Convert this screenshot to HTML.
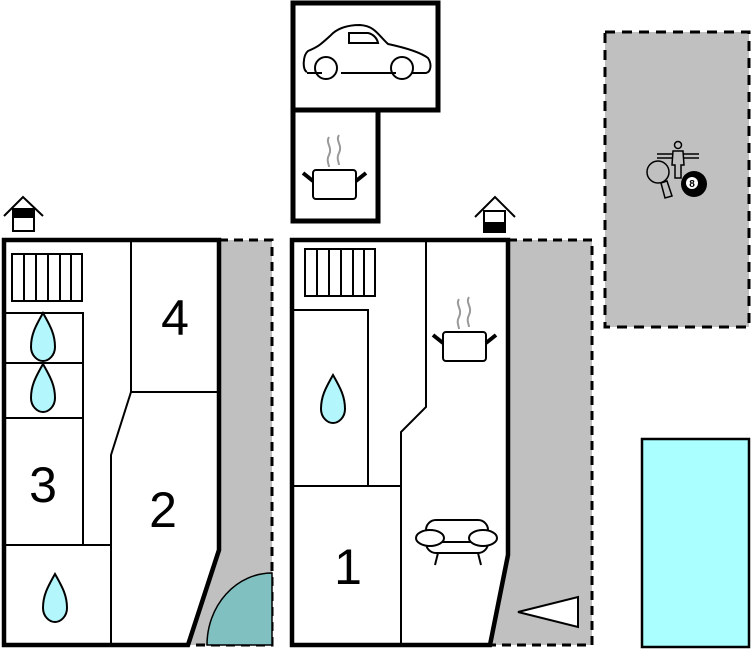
<!DOCTYPE html>
<html><head><meta charset="utf-8"><style>html,body{margin:0;padding:0;background:#fff}svg{display:block}</style></head>
<body>
<svg width="751" height="652" viewBox="0 0 751 652" xmlns="http://www.w3.org/2000/svg" font-family="Liberation Sans, sans-serif">
<defs>
<path id="drop" d="M0,-26 C8,-12 12,-4 12,8 C12,16 6,22 0,22 C-6,22 -12,16 -12,8 C-12,-4 -8,-12 0,-26 Z" fill="#b3f6fb" stroke="#000" stroke-width="2"/>
<g id="pot">
<path d="M-6,-38 c-4,6 4,10 0,18 c-3,5 0,9 0,12 M4,-40 c-4,6 4,10 0,18 c-3,5 0,9 0,12" fill="none" stroke="#999" stroke-width="2"/>
<rect x="-22" y="-5" width="43" height="29" rx="3" fill="#fff" stroke="#000" stroke-width="2"/>
<path d="M-22,6 L-32,-2 M21,6 L31,-2" stroke="#000" stroke-width="4"/>
</g>
<g id="stairs">
<rect x="0" y="0" width="70" height="47" fill="#fff" stroke="#000" stroke-width="2"/>
<path d="M12,0v47M24,0v47M36,0v47M48,0v47M59,0v47" stroke="#000" stroke-width="2"/>
</g>
</defs>

<!-- gray yards -->
<polygon points="219,240 272,240 272,645 188,645 219,550" fill="#c0c0c0"/>
<path d="M219,240 H272 V645 H188" fill="none" stroke="#000" stroke-width="3" stroke-dasharray="9,6"/>
<polygon points="508,240 592,240 592,645 490,645 508,555" fill="#c0c0c0"/>
<path d="M508,240 H592 V645 H490" fill="none" stroke="#000" stroke-width="3" stroke-dasharray="9,6"/>
<rect x="605" y="32" width="144" height="295" fill="#c0c0c0" stroke="#000" stroke-width="3" stroke-dasharray="10,7"/>
<rect x="642" y="439" width="107" height="208" fill="#aaffff" stroke="#000" stroke-width="2.5"/>

<!-- left building -->
<polygon points="4,240 219,240 219,550 188,645 4,645" fill="#fff"/>
<path d="M131,240V392H219 M131,392L111,455V645 M5,313H83V545 M5,363H83 M5,418H83 M5,545H111" fill="none" stroke="#000" stroke-width="2"/>
<use href="#stairs" x="12" y="254"/>
<use href="#drop" x="43" y="339"/>
<use href="#drop" x="43" y="390"/>
<use href="#drop" x="55" y="600"/>
<text x="43" y="502" font-size="50" text-anchor="middle">3</text>
<text x="175" y="335" font-size="50" text-anchor="middle">4</text>
<text x="163" y="527" font-size="50" text-anchor="middle">2</text>
<path d="M207,645 A65,72 0 0 1 272,573 V645 Z" fill="#80c0c0" stroke="#000" stroke-width="1.5"/>
<polygon points="4,240 219,240 219,550 188,645 4,645" fill="none" stroke="#000" stroke-width="4.5"/>
<!-- house icon left -->
<path d="M4,216 L23,197 L43,216" fill="none" stroke="#000" stroke-width="2"/>
<rect x="13" y="209" width="21" height="22" fill="#fff" stroke="#000" stroke-width="2"/>
<rect x="13" y="209" width="21" height="9" fill="#000"/>

<!-- right building -->
<polygon points="292,240 508,240 508,555 490,645 292,645" fill="#fff"/>
<path d="M426,240V407L401,432V645 M292,310H368V486 M292,486H401" fill="none" stroke="#000" stroke-width="2"/>
<use href="#stairs" x="305" y="249"/>
<use href="#drop" x="333" y="401"/>
<text x="348" y="584" font-size="50" text-anchor="middle">1</text>
<use href="#pot" x="465" y="337"/>
<!-- sofa -->
<g fill="#fff" stroke="#000" stroke-width="2">
<rect x="426" y="520" width="62" height="33" rx="10"/>
<path d="M433,542H488" />
<ellipse cx="430" cy="538" rx="14" ry="8"/>
<ellipse cx="483" cy="538" rx="14" ry="8"/>
<path d="M438,553L435,565M478,553L481,565"/>
</g>
<polygon points="518,612 578,597 578,627" fill="#fff" stroke="#000" stroke-width="2"/>
<polygon points="292,240 508,240 508,555 490,645 292,645" fill="none" stroke="#000" stroke-width="4.5"/>
<!-- house icon right -->
<path d="M475,217 L495,197 L515,217" fill="none" stroke="#000" stroke-width="2"/>
<rect x="484" y="211" width="21" height="21" fill="#fff" stroke="#000" stroke-width="2"/>
<rect x="484" y="222" width="21" height="10" fill="#000"/>

<!-- garage -->
<path d="M293,3H438V110H378V221H293Z M293,110H378" fill="#fff" stroke="#000" stroke-width="5"/>
<g fill="none" stroke="#000" stroke-width="2">
<path d="M307,72 C302,70 303,55 308,51 C318,47 320,45 330,36 C338,27 350,25 360,25 C375,26 378,35 388,44 C402,47 420,52 428,58 C432,64 431,72 426,73 L412,73 M396,73 H341 M322,73 H307"/>
<circle cx="326" cy="68" r="11"/>
<circle cx="402" cy="68" r="11"/>
<path d="M349,33 H368 C373,34 377,38 378,43 H349 Z"/>
</g>
<use href="#pot" x="335" y="175"/>

<!-- game icons -->
<g stroke="#000" stroke-width="1.5" fill="none">
<path d="M657,154H699M657,158H699"/>
<circle cx="678" cy="145" r="3.5" fill="#c0c0c0"/>
<path d="M673,151H683L684,165H681L681,178H675L675,165H672Z" fill="#c0c0c0"/>
<circle cx="658" cy="172" r="11" fill="#c0c0c0"/>
<path d="M661,183L665,198L672,196L667,181Z" fill="#c0c0c0"/>
</g>
<circle cx="694" cy="184" r="13" fill="#000"/>
<circle cx="692" cy="183" r="6" fill="#fff"/>
<text x="692" y="187" font-size="10" font-weight="bold" text-anchor="middle">8</text>
</svg>
</body></html>
